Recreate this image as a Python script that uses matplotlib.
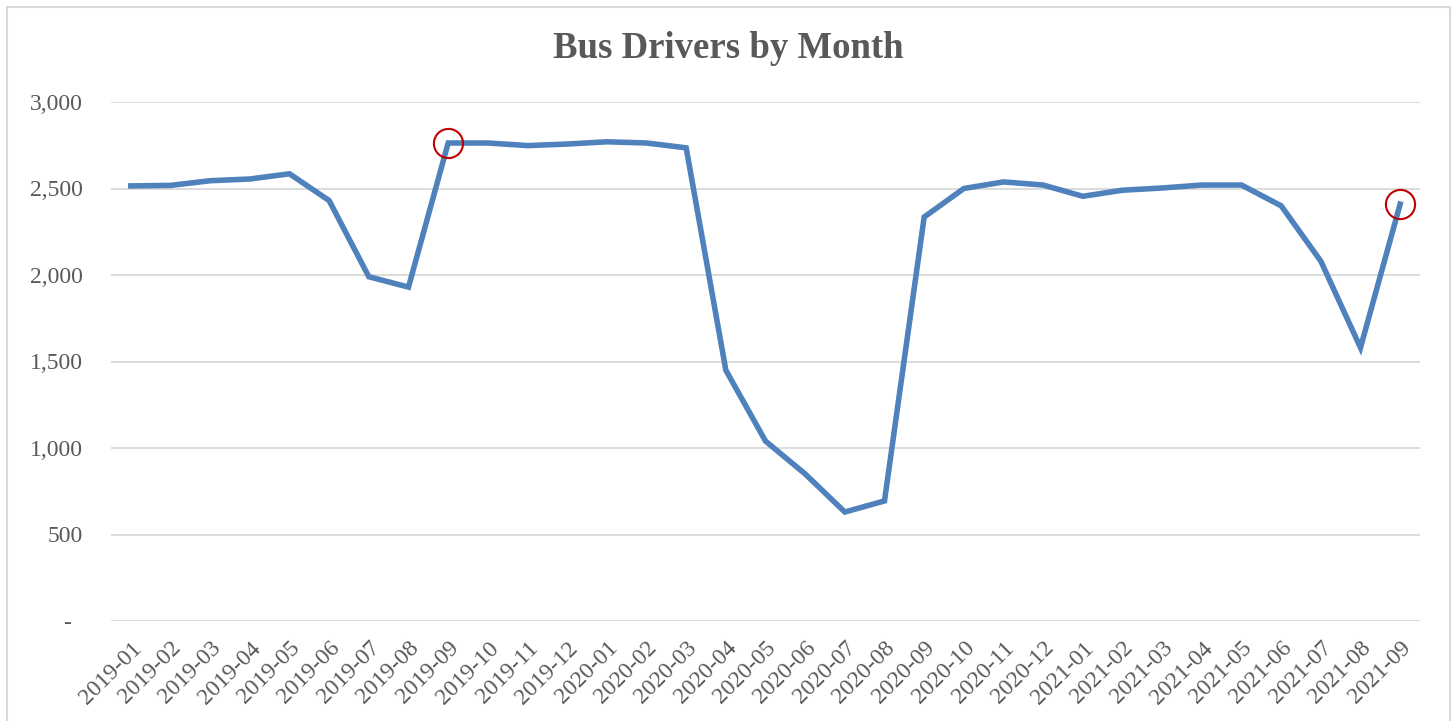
import matplotlib

matplotlib.use("Agg")

import matplotlib.pyplot as plt
from matplotlib.patches import Rectangle
from matplotlib.ticker import FuncFormatter

MONTHS = [
    "2019-01", "2019-02", "2019-03", "2019-04", "2019-05", "2019-06",
    "2019-07", "2019-08", "2019-09", "2019-10", "2019-11", "2019-12",
    "2020-01", "2020-02", "2020-03", "2020-04", "2020-05", "2020-06",
    "2020-07", "2020-08", "2020-09", "2020-10", "2020-11", "2020-12",
    "2021-01", "2021-02", "2021-03", "2021-04", "2021-05", "2021-06",
    "2021-07", "2021-08", "2021-09",
]

DRIVERS = [
    2515, 2518, 2545, 2555, 2585, 2430,
    1990, 1930, 2763, 2763, 2748, 2757,
    2770, 2763, 2735, 1450, 1040, 850,
    630, 694, 2335, 2500, 2538, 2520,
    2455, 2490, 2503, 2520, 2520, 2400,
    2080, 1580, 2410,
]

HIGHLIGHT_MONTHS = ["2019-09", "2021-09"]

TEXT_COLOR = "#595959"
GRID_COLOR = "#D9D9D9"
LINE_COLOR = "#4F81BD"
CIRCLE_COLOR = "#C00000"


def y_format(value, pos):
    if value == 0:
        return "-  "
    return f"{value:,.0f}"


def main() -> None:
    plt.rcParams["font.family"] = ["Liberation Serif", "DejaVu Serif"]

    fig = plt.figure(figsize=(14.56, 7.21), dpi=100)
    ax = fig.add_axes([111 / 1456, 1 - 621 / 721, (1420 - 111) / 1456, (621 - 102) / 721])

    x = list(range(len(MONTHS)))
    ax.plot(x, DRIVERS, color=LINE_COLOR, linewidth=4.0, solid_joinstyle="miter", zorder=3)

    hx = [MONTHS.index(m) for m in HIGHLIGHT_MONTHS]
    hy = [DRIVERS[i] for i in hx]
    ax.plot(hx, hy, linestyle="none", marker="o", markersize=21, markerfacecolor="none",
            markeredgecolor=CIRCLE_COLOR, markeredgewidth=1.5, zorder=4)

    ax.set_xlim(-0.5, len(MONTHS) - 0.5)
    ax.set_ylim(0, 3000)
    ax.set_yticks(range(0, 3001, 500))
    ax.yaxis.set_major_formatter(FuncFormatter(y_format))
    ax.set_xticks(x)
    ax.set_xticklabels(MONTHS, rotation=45, ha="right", rotation_mode="anchor")

    ax.tick_params(axis="both", length=0, labelsize=17, labelcolor=TEXT_COLOR)
    ax.tick_params(axis="y", pad=20)
    ax.tick_params(axis="x", pad=12)
    ax.grid(axis="y", color=GRID_COLOR, linewidth=1.3)
    ax.set_axisbelow(True)
    for spine in ax.spines.values():
        spine.set_visible(False)

    fig.text(0.5, 1 - 49 / 721, "Bus Drivers by Month", ha="center", va="center",
             fontsize=26.5, fontweight="bold", color=TEXT_COLOR)

    fig.patches.append(Rectangle((7 / 1456, -0.05), (1450 - 7) / 1456, 1.05 - 7 / 721,
                                 transform=fig.transFigure, fill=False,
                                 edgecolor=GRID_COLOR, linewidth=1.5))

    fig.savefig("out.png", dpi=100)
    plt.close(fig)


if __name__ == "__main__":
    main()
